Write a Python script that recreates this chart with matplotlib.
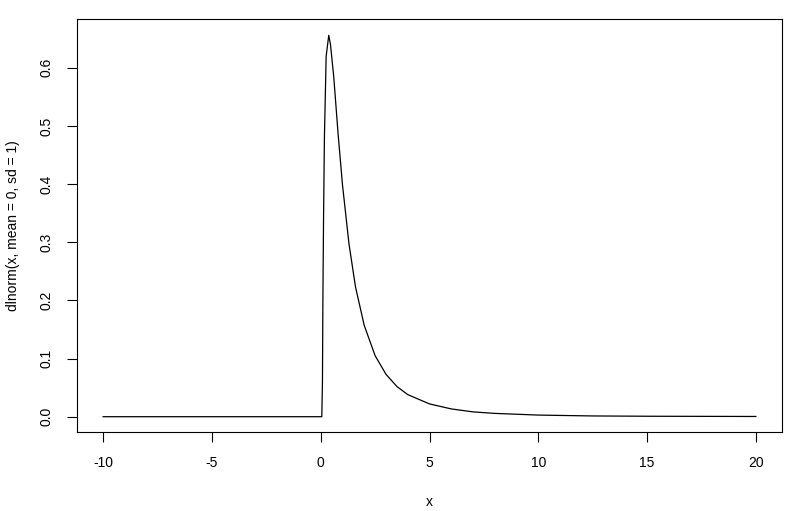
import matplotlib
matplotlib.use("Agg")
import matplotlib.pyplot as plt

plt.rcParams['font.family'] = ['Liberation Sans', 'DejaVu Sans']

# curve points
x_vals = [-10, -5, 0, 0.05, 0.08, 0.1, 0.13, 0.17, 0.25, 0.37, 0.45, 0.6, 0.8,
          1.0, 1.3, 1.6, 2.0, 2.5, 3.0, 3.5, 4.0, 5.0, 6.0, 7.0, 8.0, 10.0,
          12.5, 15.0, 20.0]
y_vals = [0, 0, 0, 0, 0.06, 0.2, 0.34, 0.48, 0.62, 0.656, 0.64, 0.584, 0.486,
          0.399, 0.297, 0.223, 0.157, 0.105, 0.073, 0.052, 0.038, 0.022, 0.0134,
          0.0083, 0.0057, 0.0028, 0.0013, 0.0008, 0.0004]

x_ticks = [-10, -5, 0, 5, 10, 15, 20]
y_ticks = [0.0, 0.1, 0.2, 0.3, 0.4, 0.5, 0.6]

fig = plt.figure(figsize=(7.99, 5.11), dpi=100)
ax = fig.add_axes([0.0964, 0.1546, 0.8823, 0.8082])

ax.plot(x_vals, y_vals, color='black', linewidth=0.9)

ax.set_xlim(-11.2, 21.2)
ax.set_ylim(-0.0263, 0.684)

ax.set_xticks(x_ticks)
ax.set_xticklabels([str(t) for t in x_ticks])
ax.set_yticks(y_ticks)
ax.set_yticklabels(['%.1f' % t for t in y_ticks], rotation=90, va='center')
ax.tick_params(direction='out', length=7, width=0.8, labelsize=10)
ax.tick_params(axis='x', pad=10)
ax.tick_params(axis='y', pad=10)

for s in ax.spines.values():
    s.set_linewidth(0.8)

ax.set_xlabel('x', fontsize=10, labelpad=18)
ax.set_ylabel('dlnorm(x, mean = 0, sd = 1)', fontsize=10, labelpad=14)

fig.savefig('out.png', dpi=100)
